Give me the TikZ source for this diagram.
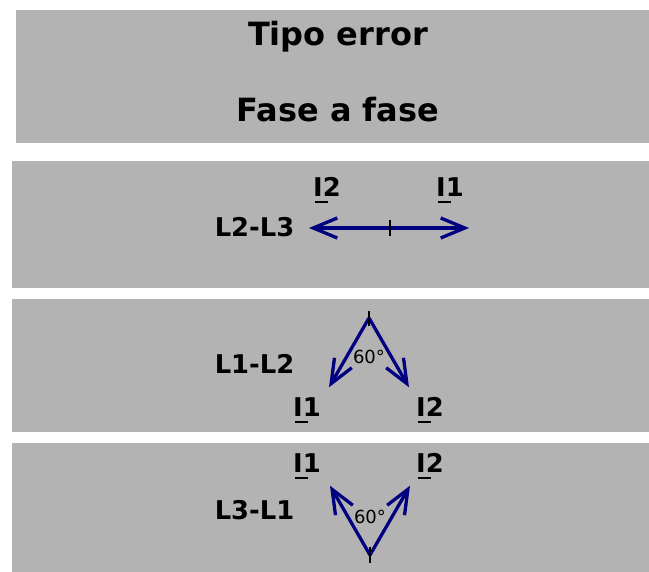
\documentclass[tikz,border=0pt]{standalone}
\usepackage{fontspec}
\setmainfont{DejaVu Sans}
\usetikzlibrary{arrows.meta}
\definecolor{panelgrey}{HTML}{B3B3B3}
\definecolor{vecblue}{HTML}{000080}
\newcommand\phI{\makebox[0pt][l]{\kern0.06em\rule[-0.25em]{0.5em}{0.08em}}I}
\tikzset{
  panel/.style={fill=panelgrey, draw=none},
  title/.style={inner sep=0pt, anchor=base, font=\fontsize{32}{38}\selectfont\bfseries},
  lbl/.style={inner sep=0pt, anchor=base, font=\fontsize{25.8}{30}\selectfont\bfseries},
  anglbl/.style={inner sep=0pt, anchor=base, font=\fontsize{18}{22}\selectfont},
  vec/.style={draw=vecblue, line width=3.3pt, -{Straight Barb[length=24pt,width=20pt,line width=3.3pt]}},
  origintick/.style={draw=black, line width=1.3pt}
}
\begin{document}
\begin{tikzpicture}[x=1pt,y=-1pt]
\useasboundingbox (0,0) rectangle (649,572);
% panels
\fill[panel] (16,10) rectangle (649,143);
\fill[panel] (12,161) rectangle (649,288);
\fill[panel] (12,299) rectangle (649,432);
\fill[panel] (12,443) rectangle (649,572);
% title
\node[title] (tipo) at (338,46) {Tipo error};
\node[title] (fase) at (338,122) {Fase a fase};
% panel 2: L2-L3
\node[lbl] (l23) at (254.5,237) {L2-L3};
\node[lbl] (p2i2) at (327,197) {\phI2};
\node[lbl] (p2i1) at (450,197) {\phI1};
\coordinate (o2) at (390,228);
\coordinate (o2a) at (309,228);
\coordinate (o2b) at (469,228);
\draw[vec] (o2) -- (o2a);
\draw[vec] (o2) -- (o2b);
\draw[origintick] (390,220) -- (390,236);
% panel 3: L1-L2
\node[lbl] (l12) at (254.5,374) {L1-L2};
\node[lbl] (p3i1) at (307,417) {\phI1};
\node[lbl] (p3i2) at (430,417) {\phI2};
\node[anglbl] (p3ang) at (369,364) {60°};
\coordinate (o3) at (369,318);
\coordinate (o3a) at (329,387.3);
\coordinate (o3b) at (409,387.3);
\draw[vec] (o3) -- (o3a);
\draw[vec] (o3) -- (o3b);
\draw[origintick] (369,311) -- (369,326);
% panel 4: L3-L1
\node[lbl] (l31) at (254.5,519) {L3-L1};
\node[lbl] (p4i1) at (307,473) {\phI1};
\node[lbl] (p4i2) at (430,473) {\phI2};
\node[anglbl] (p4ang) at (370,524) {60°};
\coordinate (o4) at (370,555);
\coordinate (o4a) at (330,485.7);
\coordinate (o4b) at (410,485.7);
\draw[vec] (o4) -- (o4a);
\draw[vec] (o4) -- (o4b);
\draw[origintick] (370,547) -- (370,563);
\end{tikzpicture}
\end{document}
